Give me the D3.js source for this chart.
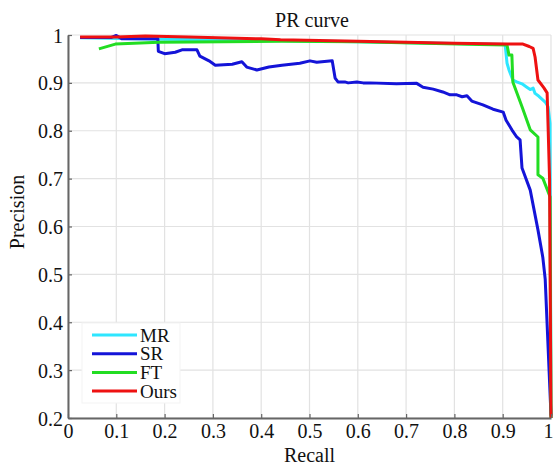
<!DOCTYPE html>
<html>
<head>
<meta charset="utf-8">
<script src="https://cdn.jsdelivr.net/npm/d3@7"></script>
<style>
  body { margin: 0; background: #fff; }
  text { font-family: "Liberation Serif", "Times New Roman", serif; fill: #111; }
</style>
</head>
<body>
<div id="holder"></div>
<script>
const w = 553;
const h = 465;

// DATA
const xTicks = [0, 0.1, 0.2, 0.3, 0.4, 0.5, 0.6, 0.7, 0.8, 0.9, 1];
const yTicks = [0.2, 0.3, 0.4, 0.5, 0.6, 0.7, 0.8, 0.9, 1];
const seriesNames = ["MR", "SR", "FT", "Ours"];
const seriesColors = ["#2ee6ff", "#1414d8", "#22dd22", "#ee1111"];

const mrRecall = [0.025, 0.2, 0.4, 0.6, 0.8, 0.905, 0.909, 0.913, 0.921, 0.929, 0.94, 0.95, 0.957, 0.963, 0.967, 0.975, 0.988, 0.994, 0.998, 1.0];
const mrPrecision = [0.994, 0.991, 0.989, 0.986, 0.982, 0.98, 0.941, 0.927, 0.906, 0.902, 0.898, 0.891, 0.886, 0.889, 0.878, 0.872, 0.86, 0.85, 0.816, 0.2];

const srRecall = [0.025, 0.09, 0.1, 0.112, 0.186, 0.187, 0.2, 0.222, 0.236, 0.267, 0.273, 0.292, 0.305, 0.34, 0.36, 0.37, 0.391, 0.416, 0.443, 0.48, 0.501, 0.515, 0.547, 0.553, 0.559, 0.573, 0.58, 0.598, 0.611, 0.625, 0.68, 0.722, 0.735, 0.756, 0.776, 0.791, 0.805, 0.816, 0.826, 0.836, 0.859, 0.88, 0.901, 0.907, 0.919, 0.929, 0.936, 0.94, 0.957, 0.973, 0.983, 0.988, 1.0];
const srPrecision = [0.995, 0.995, 0.999, 0.992, 0.992, 0.966, 0.961, 0.964, 0.969, 0.969, 0.956, 0.946, 0.937, 0.939, 0.944, 0.933, 0.927, 0.933, 0.937, 0.941, 0.946, 0.943, 0.946, 0.91, 0.902, 0.902, 0.9, 0.902, 0.9, 0.9, 0.898, 0.899, 0.891, 0.887, 0.881, 0.875, 0.875, 0.871, 0.873, 0.862, 0.854, 0.845, 0.839, 0.822, 0.802, 0.787, 0.781, 0.722, 0.676, 0.593, 0.536, 0.49, 0.205];

const ftRecall = [0.064, 0.098, 0.188, 0.443, 0.6, 0.853, 0.909, 0.913, 0.919, 0.921, 0.94, 0.957, 0.973, 0.973, 0.983, 0.998, 1.0];
const ftPrecision = [0.971, 0.981, 0.985, 0.987, 0.986, 0.98, 0.979, 0.958, 0.958, 0.902, 0.85, 0.802, 0.787, 0.708, 0.701, 0.662, 0.2];

const oursRecall = [0.025, 0.1, 0.16, 0.25, 0.4, 0.44, 0.6, 0.8, 0.91, 0.942, 0.955, 0.963, 0.967, 0.973, 0.985, 0.992, 0.994, 0.997, 1.0];
const oursPrecision = [0.996, 0.996, 0.998, 0.996, 0.992, 0.99, 0.987, 0.983, 0.981, 0.981, 0.976, 0.972, 0.954, 0.906, 0.89, 0.879, 0.808, 0.7, 0.2];

const recalls = [mrRecall, srRecall, ftRecall, oursRecall];
const precisions = [mrPrecision, srPrecision, ftPrecision, oursPrecision];

// SCALES
const x = d3.scaleLinear().domain([0, 1]).range([68, 551]);
const y = d3.scaleLinear().domain([0.2, 1]).range([418, 35]);

const svg = d3.select("#holder")
    .append("svg")
    .attr("width", w)
    .attr("height", h);

// GRID
svg.append("g")
    .selectAll("line")
    .data(xTicks)
    .enter()
    .append("line")
    .attr("x1", d => x(d)).attr("x2", d => x(d))
    .attr("y1", y(0.2)).attr("y2", y(1))
    .style("stroke", "#e2e2e2")
    .style("stroke-width", 1.2);

svg.append("g")
    .selectAll("line")
    .data(yTicks)
    .enter()
    .append("line")
    .attr("x1", x(0)).attr("x2", x(1))
    .attr("y1", d => y(d)).attr("y2", d => y(d))
    .style("stroke", "#e2e2e2")
    .style("stroke-width", 1.2);

// CURVES
const line = d3.line()
    .x(d => x(d[0]))
    .y(d => y(d[1]));

seriesNames.forEach((name, i) => {
    const pts = recalls[i].map((r, j) => [r, precisions[i][j]]);
    svg.append("path")
        .datum(pts)
        .attr("d", line)
        .attr("fill", "none")
        .style("stroke", seriesColors[i])
        .style("stroke-width", 3)
        .style("stroke-linejoin", "round");
});

// AXES
const xAxis = d3.axisBottom(x)
    .tickValues(xTicks)
    .tickFormat(d => String(d))
    .tickSizeInner(-4)
    .tickSizeOuter(0)
    .tickPadding(6);

const yAxis = d3.axisLeft(y)
    .tickValues(yTicks)
    .tickFormat(d => String(d))
    .tickSizeInner(-4)
    .tickSizeOuter(0)
    .tickPadding(5);

const gx = svg.append("g")
    .attr("transform", "translate(0," + y(0.2) + ")")
    .call(xAxis);
const gy = svg.append("g")
    .attr("transform", "translate(" + x(0) + ",0)")
    .call(yAxis);

[gx, gy].forEach(g => {
    g.select(".domain").style("stroke", "#666").style("stroke-width", 2);
    g.selectAll(".tick line").style("stroke", "#666").style("stroke-width", 1.2);
    g.selectAll("text")
        .style("font-family", "'Liberation Serif', 'Times New Roman', serif")
        .style("font-size", "20px")
        .style("fill", "#111");
});
gy.selectAll(".tick text").attr("dy", "0.35em");
// last x label sits against the right edge
gx.selectAll(".tick text").filter(d => d === 1)
    .attr("text-anchor", "end")
    .attr("x", 2);

// TITLES
svg.append("text")
    .attr("x", 312)
    .attr("y", 27)
    .attr("text-anchor", "middle")
    .style("font-size", "20px")
    .text("PR curve");

svg.append("text")
    .attr("x", (x(0) + x(1)) / 2)
    .attr("y", 462)
    .attr("text-anchor", "middle")
    .style("font-size", "20px")
    .text("Recall");

svg.append("text")
    .attr("transform", "translate(24,212) rotate(-90)")
    .attr("text-anchor", "middle")
    .style("font-size", "20px")
    .text("Precision");

// LEGEND
const legend = svg.append("g");
legend.append("rect")
    .attr("x", 82).attr("y", 323)
    .attr("width", 98).attr("height", 80)
    .attr("fill", "#fff")
    .style("stroke", "#f3f3f3");

const items = legend.selectAll("g.item")
    .data(seriesNames)
    .enter()
    .append("g")
    .attr("class", "item")
    .attr("transform", (d, i) => "translate(0," + (335 + i * 18.7) + ")");

items.append("line")
    .attr("x1", 92).attr("x2", 137)
    .attr("y1", 0).attr("y2", 0)
    .style("stroke", (d, i) => seriesColors[i])
    .style("stroke-width", 3);

items.append("text")
    .attr("x", 140)
    .attr("y", 0)
    .attr("dy", "0.35em")
    .style("font-size", "19px")
    .text(d => d);
</script>
</body>
</html>
